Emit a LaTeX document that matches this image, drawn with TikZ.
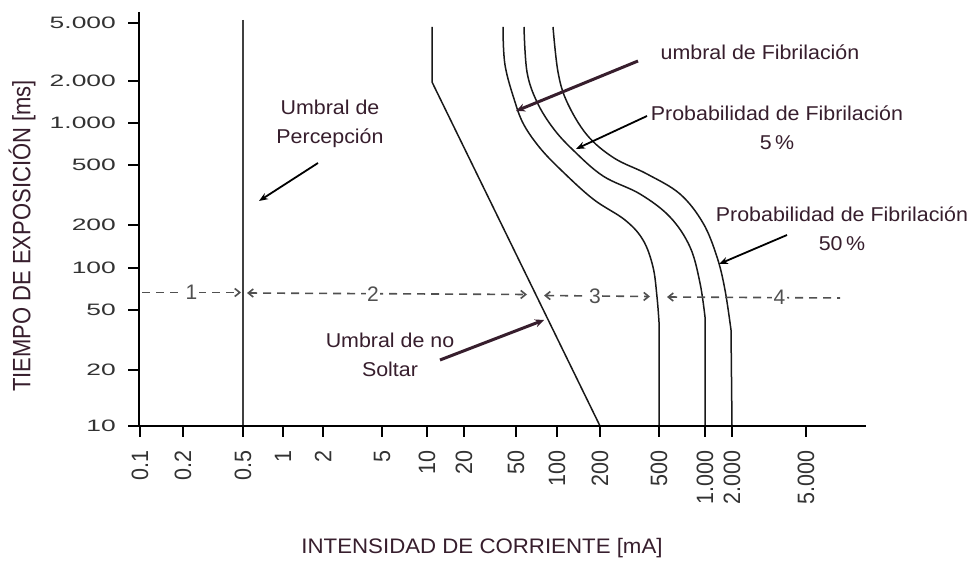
\documentclass[tikz,border=0pt]{standalone}
\usepackage{fontspec}
\setmainfont{Liberation Sans}
\usetikzlibrary{arrows.meta}
\definecolor{ink}{RGB}{55,30,45}
\definecolor{tickgray}{RGB}{50,50,50}
\definecolor{curvecol}{RGB}{25,25,25}
\definecolor{dashcol}{RGB}{80,80,80}
\newcommand{\sxa}[1]{\scalebox{1.07}[1]{#1}}
\begin{document}
\begin{tikzpicture}[x=1pt,y=-1pt,
  axisline/.style={line width=2.6pt, black},
  tickline/.style={line width=1.6pt, black},
  curveline/.style={line width=1.5pt, curvecol},
  ylab/.style={anchor=east, inner sep=0pt, text=tickgray, font=\fontsize{16.5}{18}\selectfont},
  xlab/.style={anchor=east, rotate=90, inner sep=0pt, text=tickgray, font=\fontsize{21.5}{23}\selectfont},
  dashline/.style={dash pattern=on 8pt off 6pt, line width=1.6pt, dashcol},
  dlab/.style={fill=white, inner sep=1.5pt, text=dashcol, font=\fontsize{21}{23}\selectfont},
  annot/.style={align=center, inner sep=0pt, text=ink, font=\fontsize{20}{29}\selectfont},
  thinarrow/.style={line width=1.8pt, black, -{Stealth[length=9pt,width=7pt]}},
  thickarrow/.style={line width=3pt, ink, -{Stealth[length=9pt,width=8pt]}},
  title/.style={inner sep=0pt, text=ink, font=\fontsize{21}{23}\selectfont}
]
\useasboundingbox (0,0) rectangle (971,561);
\fill[white] (0,0) rectangle (971,561);

% axes
\coordinate (O) at (139,426);
\coordinate (ytop) at (139,12);
\coordinate (xend) at (866,426);

% y ticks
\foreach \v/\y [count=\i] in {5.000/23, 2.000/81, 1.000/123, 500/165, 200/225, 100/268, 50/310, 20/370, 10/426} {
  \draw[tickline] (128,\y) -- (139,\y);
  \node[ylab] (yl\i) at (116,\y) {\scalebox{1.6}[1]{\v}};
}
% x ticks
\foreach \v/\x [count=\i] in {0.1/140, 0.2/183, 0.5/243, 1/283, 2/323, 5/382, 10/427, 20/464, 50/516, 100/557, 200/600, 500/659, 1.000/705, 2.000/732, 5.000/806} {
  \draw[tickline] (\x,426) -- (\x,437);
  \node[xlab] (xl\i) at (\x,450) {\scalebox{1}[1.1]{\v}};
}

% perception threshold
\draw[line width=1.8pt, black!75] (243,20) -- (243,426);

% let-go threshold
\draw[curveline] (432,27) -- (432,82) -- (600,426);

% fibrillation curves
\draw[curveline] plot[smooth, tension=0.6] coordinates {(503,27) (505,65) (515,102) (524,125) (540,148) (561,170) (593,199) (625,220) (643,240) (653,267) (657,297) (659,322)} -- (659,426);
\draw[curveline] plot[smooth, tension=0.6] coordinates {(524,27) (527,72) (537,102) (553,128) (573,150) (603,176) (640,194) (670,217) (690,247) (700,283) (705,317)} -- (705,426);
\draw[curveline] plot[smooth, tension=0.6] coordinates {(553,27) (558,72) (567,102) (587,135) (614,158) (647,174) (680,194) (703,223) (717,257) (725,290) (731,330)} -- (732,426);

\draw[axisline] (ytop) -- (O) -- (xend);

% dashed zones
\draw[dashline, -{Straight Barb[length=5pt,width=8pt]}] (142,292.5) -- node[dlab] (z1) {1} (241,292.5);
\draw[dashline, {Straight Barb[length=5pt,width=8pt]}-{Straight Barb[length=5pt,width=8pt]}] (247,293) -- node[dlab, pos=0.45] (z2) {2} (527,294.5);
\draw[dashline, {Straight Barb[length=5pt,width=8pt]}-{Straight Barb[length=5pt,width=8pt]}] (544,295.5) -- node[dlab, pos=0.48] (z3) {3} (650,296.5);
\draw[dashline, {Straight Barb[length=5pt,width=8pt]}-] (667,297) -- node[dlab, pos=0.65] (z4) {4} (840,298);

% annotations
\node[annot] (perc) at (330,124) {\sxa{Umbral de}\\\sxa{Percepción}};
\node[annot] (fib) at (760,52) {\sxa{umbral de Fibrilación}};
\node[annot] (p5) at (777,128) {\sxa{Probabilidad de Fibrilación}\\\sxa{5\,\%}};
\node[annot] (p50) at (842,229) {\sxa{Probabilidad de Fibrilación}\\\sxa{50\,\%}};
\node[annot] (nosolt) at (390,355) {\sxa{Umbral de no}\\\sxa{Soltar}};

\coordinate (percT) at (318,163);
\coordinate (percH) at (259,201);
\coordinate (fibT) at (638,61);
\coordinate (fibH) at (516,111);
\coordinate (p5T) at (647,116);
\coordinate (p5H) at (576,149);
\coordinate (p50T) at (787,235);
\coordinate (p50H) at (719,264);
\coordinate (soltT) at (440,360);
\coordinate (soltH) at (544,320);

\draw[thinarrow] (percT) -- (percH);
\draw[thickarrow] (fibT) -- (fibH);
\draw[thinarrow] (p5T) -- (p5H);
\draw[thinarrow] (p50T) -- (p50H);
\draw[thickarrow] (soltT) -- (soltH);

% axis titles
\node[title] (xtitle) at (482,548) {\scalebox{1.06}[1]{INTENSIDAD DE CORRIENTE [mA]}};
\node[title, rotate=90, font=\fontsize{22}{24}\selectfont] (ytitle) at (22,236) {\scalebox{1}[1.14]{TIEMPO DE EXPOSICIÓN [ms]}};
\end{tikzpicture}
\end{document}
